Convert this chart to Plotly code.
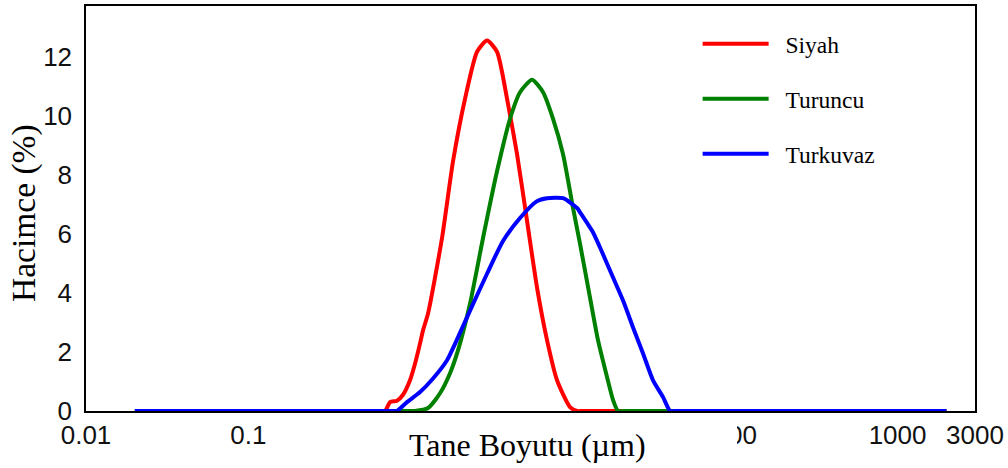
import plotly.graph_objects as go

# Particle size (µm) and volume (%)
siyah_size = [0.02, 0.65, 0.696, 0.747, 0.824, 0.898, 0.991, 1.064, 1.143, 1.192, 1.280, 1.561, 1.825,
              2.164, 2.566, 2.956, 3.406, 3.926, 4.525, 5.215, 6.009, 6.925, 7.980, 9.596, 10.60,
              11.5, 2000]
siyah_vol = [0, 0, 0, 0.3, 0.35, 0.55, 1.04, 1.6, 2.29, 2.73, 3.3, 5.86, 8.46,
             10.58, 12.17, 12.55, 12.17, 10.58, 8.7, 6.44, 4.18, 2.4, 1.04, 0.13, 0,
             0, 0]

turuncu_size = [0.02, 1.0, 1.064, 1.280, 1.517, 1.749, 1.960, 2.323, 2.793, 3.406, 4.097, 4.722, 5.598,
                6.544, 7.542, 8.690, 10.01, 11.06, 12.74, 14.28, 16.22, 17.67, 18.96, 20.5, 2000]
turuncu_vol = [0, 0, 0, 0.1, 0.6, 1.28, 2.06, 3.64, 5.86, 8.12, 9.9, 10.8, 11.22,
               10.8, 9.9, 8.7, 6.88, 5.66, 3.84, 2.39, 1.15, 0.37, 0, 0, 0]

turkuvaz_size = [0.02, 0.78, 0.824, 0.950, 1.143, 1.374, 1.676, 1.960, 2.323, 2.956, 3.709, 4.722, 6.009,
                 6.925, 8.690, 10.60, 11.06, 13.30, 14.69, 17.67, 20.36, 23.46, 27.03, 31.15, 35.91,
                 39.66, 42.5, 2000]
turkuvaz_vol = [0, 0, 0, 0.3, 0.64, 1.1, 1.72, 2.5, 3.4, 4.65, 5.76, 6.54, 7.11,
                7.21, 7.21, 6.88, 6.73, 6.05, 5.54, 4.52, 3.74, 2.83, 1.95, 1.04, 0.47,
                0, 0, 0]

series_names = ["Siyah", "Turuncu", "Turkuvaz"]
series_colors = ["#FF0000", "#008000", "#0000FF"]

x_tickvals = [0.01, 0.1, 1, 10, 100, 1000, 3000]
x_ticktext = ["0.01", "0.1", "1", "10", "100", "1000", "3000"]
y_tickvals = [0, 2, 4, 6, 8, 10, 12]

x_title = "Tane Boyutu (µm)"
y_title = "Hacimce (%)"

tick_font = dict(family="Liberation Sans, Arial, sans-serif", size=26, color="#111111")
serif = "Liberation Serif, Times New Roman, serif"
NBSP = "\u00a0"

fig = go.Figure()
for i, (xs, ys) in enumerate([(siyah_size, siyah_vol), (turuncu_size, turuncu_vol),
                              (turkuvaz_size, turkuvaz_vol)]):
    fig.add_trace(go.Scatter(
        x=xs, y=ys, mode="lines", name=NBSP * 2 + series_names[i],
        legendgroup=series_names[i],
        line=dict(color=series_colors[i], width=4, shape="spline", smoothing=0.6),
    ))

fig.update_layout(
    width=1008, height=468,
    margin=dict(l=86, r=33, t=4, b=57),
    paper_bgcolor="white", plot_bgcolor="white",
    showlegend=True,
    legend=dict(
        x=0.688, y=0.9605, xanchor="left", yanchor="top",
        font=dict(family=serif, size=23.5, color="#000000"),
        bgcolor="rgba(0,0,0,0)", borderwidth=0,
        itemwidth=66, tracegroupgap=21.5,
    ),
    xaxis=dict(
        type="log", range=[-2, 3.4771],
        tickvals=x_tickvals, ticktext=x_ticktext,
        showgrid=False, zeroline=False, ticks="",
        showline=True, linecolor="#000000", linewidth=1.5, mirror=True,
        tickfont=tick_font,
    ),
    yaxis=dict(
        range=[0, 13.72],
        tickvals=y_tickvals,
        showgrid=False, zeroline=False, ticks="",
        showline=True, linecolor="#000000", linewidth=1.5, mirror=True,
        tickfont=tick_font, ticklabelstandoff=7,
    ),
    shapes=[dict(type="rect", xref="paper", yref="paper",
                 x0=0.3476, x1=0.7323, y0=-0.14, y1=-0.0125,
                 fillcolor="white", line=dict(width=0), layer="above")],
    annotations=[
        dict(text=x_title, xref="paper", yref="paper", x=0.497, y=-0.0835,
             xanchor="center", yanchor="middle", showarrow=False,
             font=dict(family=serif, size=32, color="#000000")),
        dict(text=y_title, xref="paper", yref="paper", x=-0.0697, y=0.489,
             xanchor="center", yanchor="middle", showarrow=False, textangle=-90,
             font=dict(family=serif, size=33.5, color="#000000")),
    ],
)

fig.write_html("out.html")
